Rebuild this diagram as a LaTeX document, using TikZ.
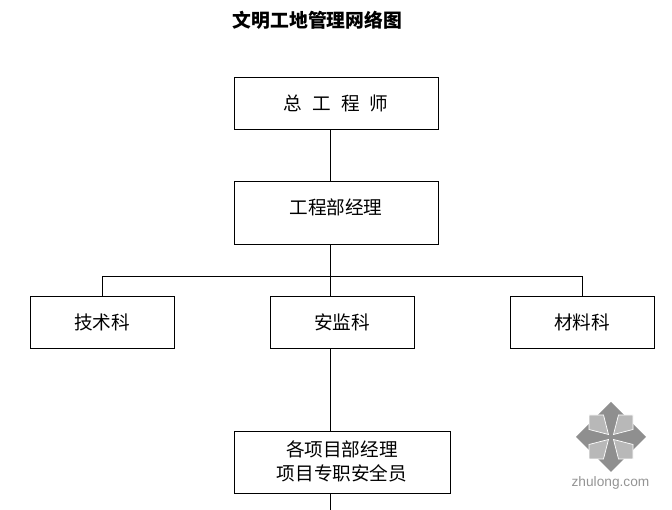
\documentclass[tikz,border=0pt]{standalone}
\usepackage{fontspec}
\newfontfamily\cjk{Noto Sans CJK SC}
\setsansfont{Liberation Sans}
\tikzset{
  post/.style={draw, align=center, line width=0.02cm, inner sep=0pt, text height=9pt, text depth=1.7pt, font=\cjk\fontsize{10.6}{13.6}\selectfont},
  wide/.style={post, minimum width=4.08cm},
  dept/.style={post, minimum width=2.88cm, minimum height=1.04cm},
  link/.style={line width=0.02cm}
}
\definecolor{markdark}{gray}{0.56}
\definecolor{marklight}{gray}{0.72}
\begin{document}
\begin{tikzpicture}
    \useasboundingbox (0,0) rectangle (13.44,10.2);
    \node[font=\cjk\bfseries\fontsize{10.7}{12}\selectfont] at (6.35,9.8) (title) {文明工地管理网络图};
    \node[wide, minimum height=1.04cm] at (6.72,8.12) (chief) {总\hspace{0.54em}工\hspace{0.54em}程\hspace{0.54em}师};
    \node[wide, minimum height=1.26cm, text depth=8.2pt] at (6.72,5.93) (manager) {工程部经理};
    \node[dept] at (2.045,3.74) (tech) {技术科};
    \node[dept] at (6.84,3.74) (safety) {安监科};
    \node[dept] at (11.64,3.74) (material) {材料科};
    \node[post, minimum width=4.32cm, minimum height=1.24cm, text height=21.5pt] at (6.84,0.94) (site) {各项目部经理\\项目专职安全员};
    \coordinate (trunk) at (6.6,4.67);
    \coordinate (tail) at (6.6,0);
    \draw[link] (chief.south -| trunk) -- (manager.north -| trunk);
    \draw[link] (manager.south -| trunk) -- (safety.north -| trunk);
    \draw[link] (tech.north) |- (trunk) -| (material.north);
    \draw[link] (safety.south -| trunk) -- (site.north -| trunk);
    \draw[link] (site.south -| trunk) -- (tail);
    % watermark
    \begin{scope}[shift={(12.22,1.46)}]
      \fill[markdark] (0,0.7) -- (0.7,0) -- (0,-0.7) -- (-0.7,0) -- cycle;
      \foreach \turn in {0,90,180,270}
        \filldraw[rotate=\turn, marklight, draw=white, line width=0.4pt]
          (-0.44,0.44) -- (-0.15,0.44) -- (-0.05,0.05) -- (-0.44,0.15) -- cycle;
    \end{scope}
    \node[text=black!42, font=\sffamily\fontsize{7.8}{9}\selectfont] at (12.21,0.54) (mark) {zhulong.com};
\end{tikzpicture}
\end{document}
